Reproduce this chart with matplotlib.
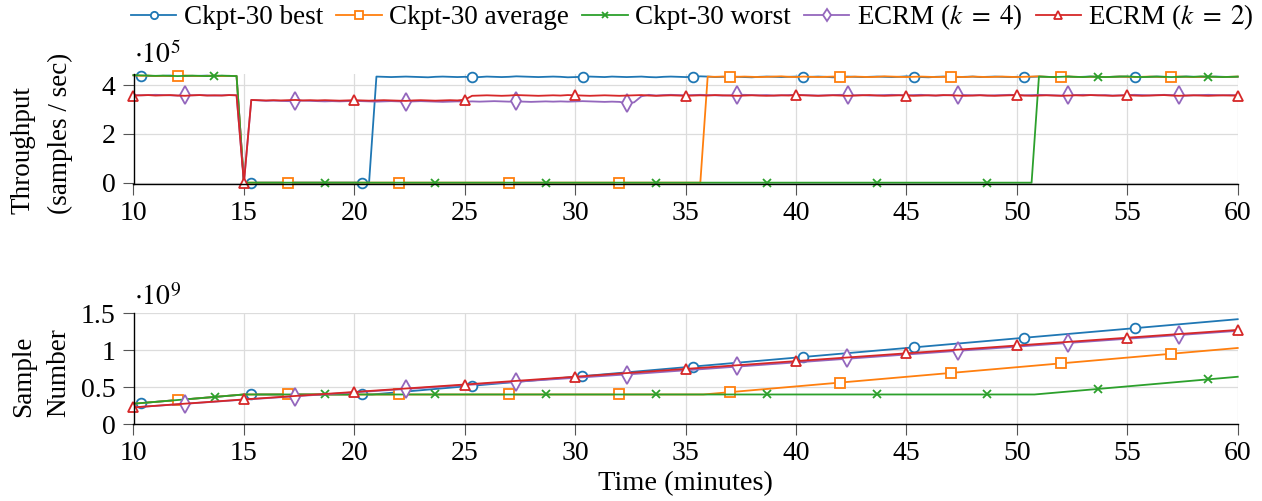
import numpy as np
import matplotlib.pyplot as plt

plt.rcParams['font.family'] = ['Liberation Serif', 'DejaVu Serif']
plt.rcParams['mathtext.fontset'] = 'stix'

# time axis of the throughput trace (one sample every 20 s)
time_top = np.linspace(10, 60, 151)

# throughput, x 1e5 samples / sec
best_tput = ([4.41, 4.40, 4.39, 4.38, 4.39, 4.40, 4.38, 4.39, 4.38, 4.39, 4.40, 4.38, 4.39, 4.38, 4.39]
             + [0, 0, 0, 0, 0, 0, 0, 0, 0,
                0, 0, 0, 0, 0, 0, 0, 0, 0]
             + [4.36, 4.35, 4.34, 4.35, 4.36, 4.35, 4.34, 4.33, 4.35, 4.36,
                4.35, 4.34, 4.35, 4.33, 4.34, 4.36, 4.35, 4.34, 4.35, 4.37,
                4.36, 4.35, 4.34, 4.35, 4.36, 4.35, 4.33, 4.34, 4.35, 4.36,
                4.35, 4.34, 4.36, 4.35, 4.34, 4.35, 4.36, 4.34, 4.33, 4.35,
                4.36, 4.35, 4.34, 4.35, 4.37, 4.36, 4.34, 4.35, 4.36, 4.35,
                4.34, 4.33, 4.35, 4.36, 4.35, 4.34, 4.35, 4.36, 4.34, 4.35,
                4.36, 4.35, 4.33, 4.34, 4.36, 4.35, 4.34, 4.35, 4.36, 4.35,
                4.34, 4.35, 4.37, 4.35, 4.34, 4.33, 4.35, 4.36, 4.35, 4.34,
                4.35, 4.36, 4.34, 4.35, 4.36, 4.35, 4.34, 4.35, 4.33, 4.35,
                4.36, 4.35, 4.34, 4.35, 4.36, 4.34, 4.35, 4.36, 4.35, 4.34,
                4.35, 4.36, 4.35, 4.33, 4.34, 4.35, 4.36, 4.35, 4.34, 4.35,
                4.36, 4.35, 4.34, 4.35, 4.36, 4.35, 4.34, 4.35])

avg_tput = ([4.41, 4.39, 4.40, 4.38, 4.39, 4.38, 4.39, 4.40, 4.39, 4.38, 4.39, 4.40, 4.38, 4.39, 4.38]
            + [0, 0, 0, 0, 0, 0, 0, 0, 0,
               0, 0, 0, 0, 0, 0, 0, 0, 0,
               0, 0, 0, 0, 0, 0, 0, 0, 0,
               0, 0, 0, 0, 0, 0, 0, 0, 0,
               0, 0, 0, 0, 0, 0, 0, 0, 0,
               0, 0, 0, 0, 0, 0, 0, 0, 0,
               0, 0, 0, 0, 0, 0, 0, 0, 0]
            + [4.36, 4.35, 4.36, 4.34, 4.35, 4.36, 4.35, 4.34, 4.35, 4.36,
               4.37, 4.35, 4.34, 4.36, 4.35, 4.34, 4.35, 4.36, 4.35, 4.34,
               4.36, 4.35, 4.34, 4.35, 4.37, 4.36, 4.35, 4.34, 4.35, 4.36,
               4.35, 4.34, 4.35, 4.36, 4.35, 4.34, 4.36, 4.35, 4.34, 4.35,
               4.36, 4.35, 4.34, 4.35, 4.36, 4.37, 4.35, 4.34, 4.35, 4.36,
               4.35, 4.34, 4.35, 4.36, 4.34, 4.35, 4.36, 4.35, 4.34, 4.35,
               4.36, 4.35, 4.34, 4.35, 4.36, 4.35, 4.34, 4.35, 4.36, 4.35,
               4.34, 4.35, 4.36])

worst_tput = ([4.42, 4.41, 4.40, 4.39, 4.40, 4.39, 4.38, 4.39, 4.40, 4.39, 4.38, 4.39, 4.40, 4.39, 4.38]
              + [0, 0, 0, 0, 0, 0, 0, 0, 0,
                 0, 0, 0, 0, 0, 0, 0, 0, 0,
                 0, 0, 0, 0, 0, 0, 0, 0, 0,
                 0, 0, 0, 0, 0, 0, 0, 0, 0,
                 0, 0, 0, 0, 0, 0, 0, 0, 0,
                 0, 0, 0, 0, 0, 0, 0, 0, 0,
                 0, 0, 0, 0, 0, 0, 0, 0, 0,
                 0, 0, 0, 0, 0, 0, 0, 0, 0,
                 0, 0, 0, 0, 0, 0, 0, 0, 0,
                 0, 0, 0, 0, 0, 0, 0, 0, 0,
                 0, 0, 0, 0, 0, 0, 0, 0, 0,
                 0, 0, 0, 0, 0, 0, 0, 0, 0]
              + [4.36, 4.35, 4.34, 4.35, 4.36, 4.35, 4.34, 4.36, 4.35, 4.34,
                 4.35, 4.36, 4.37, 4.35, 4.34, 4.35, 4.36, 4.35, 4.34, 4.35,
                 4.36, 4.35, 4.37, 4.36, 4.35, 4.34, 4.35, 4.36])

ecrm4_tput = ([3.60, 3.59, 3.60, 3.61, 3.60, 3.59, 3.58, 3.60, 3.59, 3.60, 3.59, 3.58, 3.59, 3.60, 3.59]
              + [0]
              + [3.40, 3.38, 3.36, 3.37, 3.36, 3.35, 3.36, 3.37, 3.36, 3.35,
                 3.34, 3.35, 3.34, 3.35, 3.36, 3.35, 3.34, 3.33, 3.34, 3.35,
                 3.34, 3.33, 3.34, 3.35, 3.34, 3.33, 3.32, 3.33, 3.34, 3.33,
                 3.34, 3.33, 3.34, 3.35, 3.34, 3.33, 3.34, 3.33, 3.32, 3.33,
                 3.34, 3.33, 3.34, 3.33, 3.34, 3.35, 3.34, 3.33, 3.32, 3.33,
                 3.32, 3.27, 3.30, 3.55, 3.61]
              + [3.58, 3.60, 3.61, 3.60, 3.59, 3.60, 3.61, 3.60, 3.59, 3.58,
                 3.59, 3.60, 3.61, 3.60, 3.59, 3.60, 3.58, 3.59, 3.60, 3.61,
                 3.60, 3.59, 3.58, 3.59, 3.60, 3.61, 3.60, 3.59, 3.60, 3.58,
                 3.59, 3.60, 3.61, 3.60, 3.59, 3.60, 3.61, 3.59, 3.58, 3.59,
                 3.60, 3.61, 3.60, 3.59, 3.60, 3.58, 3.59, 3.60, 3.61, 3.60,
                 3.59, 3.60, 3.61, 3.60, 3.59, 3.58, 3.59, 3.60, 3.61, 3.60,
                 3.59, 3.60, 3.58, 3.59, 3.60, 3.61, 3.60, 3.59, 3.60, 3.61,
                 3.60, 3.59, 3.58, 3.59, 3.60, 3.61, 3.60, 3.59, 3.60, 3.59])

ecrm2_tput = ([3.58, 3.59, 3.60, 3.58, 3.59, 3.60, 3.58, 3.57, 3.59, 3.60, 3.58, 3.59, 3.58, 3.60, 3.59]
              + [0]
              + [3.40, 3.39, 3.38, 3.39, 3.38, 3.39, 3.40, 3.38, 3.39, 3.38,
                 3.39, 3.38, 3.37, 3.38, 3.39, 3.38, 3.37, 3.38, 3.39, 3.38,
                 3.37, 3.36, 3.38, 3.39, 3.38, 3.37, 3.38, 3.39, 3.38, 3.41]
              + [3.57, 3.58, 3.59, 3.58, 3.57, 3.58, 3.60, 3.59, 3.58, 3.57,
                 3.58, 3.59, 3.58, 3.60, 3.59, 3.58, 3.57, 3.58, 3.59, 3.58,
                 3.57, 3.58, 3.59, 3.60, 3.58, 3.57, 3.58, 3.59, 3.58, 3.57,
                 3.58, 3.59, 3.58, 3.60, 3.59, 3.58, 3.57, 3.58, 3.59, 3.58,
                 3.57, 3.58, 3.59, 3.58, 3.60, 3.59, 3.58, 3.57, 3.58, 3.59,
                 3.58, 3.57, 3.58, 3.59, 3.60, 3.58, 3.57, 3.58, 3.59, 3.58,
                 3.57, 3.58, 3.59, 3.58, 3.60, 3.59, 3.58, 3.57, 3.58, 3.59,
                 3.58, 3.57, 3.58, 3.59, 3.60, 3.58, 3.57, 3.58, 3.59, 3.58,
                 3.57, 3.58, 3.59, 3.58, 3.60, 3.59, 3.58, 3.57, 3.58, 3.59,
                 3.58, 3.57, 3.58, 3.59, 3.60, 3.58, 3.57, 3.58, 3.59, 3.58,
                 3.57, 3.58, 3.59, 3.58, 3.58])

# sample number, x 1e9 (line break points, then values at the marks)
best_t = [10, 15, 20.8, 60]
best_n = [0.275, 0.400, 0.400, 1.420]
best_mt = [10.33, 15.33, 20.33, 25.33, 30.33, 35.33, 40.33, 45.33, 50.33, 55.33]
best_mn = [0.284, 0.400, 0.400, 0.518, 0.648, 0.778, 0.908, 1.038, 1.168, 1.298]

avg_t = [10, 15, 35.8, 60]
avg_n = [0.275, 0.400, 0.400, 1.030]
avg_mt = [12, 17, 22, 27, 32, 37, 42, 47, 52, 57]
avg_mn = [0.328, 0.400, 0.400, 0.400, 0.400, 0.431, 0.561, 0.691, 0.821, 0.951]

worst_t = [10, 15, 50.8, 60]
worst_n = [0.275, 0.400, 0.400, 0.640]
worst_mt = [13.67, 18.67, 23.67, 28.67, 33.67, 38.67, 43.67, 48.67, 53.67, 58.67]
worst_mn = [0.363, 0.400, 0.400, 0.400, 0.400, 0.400, 0.400, 0.400, 0.475, 0.605]

ecrm4_t = [10, 15, 33, 60]
ecrm4_n = [0.225, 0.330, 0.685, 1.262]
ecrm4_mt = [12.33, 17.33, 22.33, 27.33, 32.33, 37.33, 42.33, 47.33, 52.33, 57.33]
ecrm4_mn = [0.268, 0.372, 0.472, 0.572, 0.668, 0.780, 0.890, 0.995, 1.100, 1.205]

ecrm2_t = [10, 15, 25, 60]
ecrm2_n = [0.225, 0.333, 0.535, 1.275]
ecrm2_mt = [10, 15, 20, 25, 30, 35, 40, 45, 50, 55, 60]
ecrm2_mn = [0.225, 0.333, 0.435, 0.535, 0.641, 0.747, 0.852, 0.958, 1.064, 1.169, 1.275]

labels = ['Ckpt-30 best', 'Ckpt-30 average', 'Ckpt-30 worst',
          r'ECRM ($k\;=\;4$)', r'ECRM ($k\;=\;2$)']
colors = ['#1f77b4', '#ff7f0e', '#2ca02c', '#9467bd', '#d62728']
markers = ['o', 's', 'x', 'd', '^']
msizes = [7.0, 6.8, 6.0, 8.8, 7.8]
mark_start = [1, 6, 11, 7, 0]
x_ticks = [10, 15, 20, 25, 30, 35, 40, 45, 50, 55, 60]

tputs = [best_tput, avg_tput, worst_tput, ecrm4_tput, ecrm2_tput]
lines_t = [best_t, avg_t, worst_t, ecrm4_t, ecrm2_t]
lines_n = [best_n, avg_n, worst_n, ecrm4_n, ecrm2_n]
marks_t = [best_mt, avg_mt, worst_mt, ecrm4_mt, ecrm2_mt]
marks_n = [best_mn, avg_mn, worst_mn, ecrm4_mn, ecrm2_mn]

W, H = 1262, 501
fig = plt.figure(figsize=(W / 100, H / 100), dpi=100)
ax1 = fig.add_axes([133.5 / W, 1 - 184 / H, (1237.7 - 133.5) / W, (184 - 73.9) / H])
ax2 = fig.add_axes([133.5 / W, 1 - 424 / H, (1237.7 - 133.5) / W, (424 - 313.3) / H])

handles = []
for i in range(5):
    mkw = dict(marker=markers[i], markersize=msizes[i], markerfacecolor='white',
               markeredgecolor=colors[i], markeredgewidth=1.3)
    h, = ax1.plot(time_top, tputs[i], color=colors[i], lw=1.3,
                  markevery=(mark_start[i], 15), clip_on=False, **mkw)
    handles.append(h)
    ax2.plot(lines_t[i], lines_n[i], color=colors[i], lw=1.3, clip_on=False)
    ax2.plot(marks_t[i], marks_n[i], ls='none', clip_on=False, **mkw)

for ax in (ax1, ax2):
    ax.set_xlim(10, 60)
    ax.set_xticks(x_ticks)
    ax.grid(True, color='#dcdcdc', lw=0.9)
    ax.set_axisbelow(True)
    for s in ('top', 'right'):
        ax.spines[s].set_visible(False)
    for s in ('left', 'bottom'):
        ax.spines[s].set_linewidth(1.0)
    ax.tick_params(axis='x', direction='out', length=8, width=0.8, color='#555555',
                   labelsize=20, pad=4)
    ax.tick_params(axis='y', direction='out', length=8, width=0.8, color='#555555',
                   labelsize=20, pad=5)

ax1.set_ylim(-0.055, 4.47)
ax1.set_yticks([0, 2, 4])
ax2.set_ylim(0, 1.5)
ax2.set_yticks([0, 0.5, 1, 1.5])
ax2.set_yticklabels(['0', '0.5', '1', '1.5'])

# multiplier labels
fig.text(134 / W, 1 - 63 / H, r'$\cdot10^{5}$', fontsize=20, ha='left', va='baseline')
fig.text(134 / W, 1 - 305 / H, r'$\cdot10^{9}$', fontsize=20, ha='left', va='baseline')

# y labels
ykw = dict(fontsize=19.5, rotation=90, rotation_mode='anchor', ha='left', va='baseline')
fig.text(29 / W, 1 - 214 / H, 'Throughput', **ykw)
fig.text(67 / W, 1 - 214 / H, '(samples / sec)', **ykw)
fig.text(30 / W, 1 - 417 / H, 'Sample', **ykw)
fig.text(65 / W, 1 - 417 / H, 'Number', **ykw)

fig.text(685.6 / W, 1 - 490 / H, 'Time (minutes)', fontsize=20.5, ha='center', va='baseline')

fig.legend(handles=handles, labels=labels, loc='center left',
           bbox_to_anchor=(131 / W, 1 - 17 / H), ncol=5, frameon=False,
           fontsize=19.5, handlelength=1.67, handletextpad=0.27, columnspacing=0.5,
           borderpad=0, borderaxespad=0, markerscale=0.75)

plt.savefig('out.png', dpi=100)
